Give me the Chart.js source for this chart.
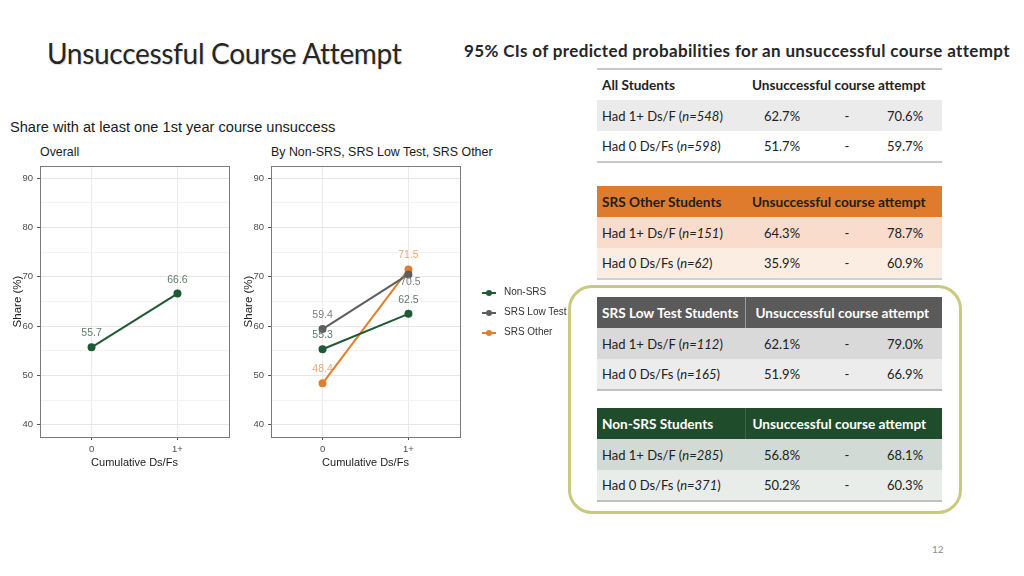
<!DOCTYPE html>
<html>
<head>
<meta charset="utf-8">
<script src="https://cdn.jsdelivr.net/npm/chart.js@4.4.1/dist/chart.umd.min.js"></script>
<style>
body { margin:0; width:1024px; height:576px; background:#fff; position:relative; overflow:hidden; font-family:Lato, "Liberation Sans", sans-serif; }
.abs { position:absolute; white-space:nowrap; }
#mainTitle { left:47px; top:36px; font-size:28px; color:#262626; letter-spacing:-0.3px; text-shadow:1px 1px 1px rgba(0,0,0,0.15); }
#ciTitle { left:464px; top:40px; font-size:17px; font-weight:bold; color:#262626; letter-spacing:0.35px; }
.rtext { font-family:"Liberation Sans", Arial, sans-serif; color:#1a1a1a; }
#chartTitle { left:10px; top:119px; font-size:14.6px; }
.panelTitle { top:145px; font-size:12.4px; }
canvas { position:absolute; }
#legend { left:480px; top:285px; font-family:"Liberation Sans", Arial, sans-serif; font-size:10px; color:#333; }
.legItem { position:relative; height:20px; }
.legLine { position:absolute; left:2px; top:7px; width:14px; height:2px; }
.legDot { position:absolute; left:6px; top:5px; width:6px; height:6px; border-radius:50%; }
.legText { position:absolute; left:24px; top:1px; }
table { position:absolute; left:597px; width:345px; border-collapse:collapse; table-layout:fixed; font-size:13px; color:#222; }
td { height:31px; padding:0; box-sizing:border-box; }
td.lab { padding-left:5px; }
td.num { text-align:center; }
td.hd { font-weight:bold; font-size:13.6px; }
#box { left:568px; top:285px; width:388px; height:223px; border:3px solid #c9ca80; border-radius:24px; }
#pageNo { left:932px; top:543px; font-size:10px; color:#8c8c8c; }
</style>
</head>
<body>
<div class="abs" id="mainTitle">Unsuccessful Course Attempt</div>
<div class="abs" id="ciTitle">95% CIs of predicted probabilities for an unsuccessful course attempt</div>
<div class="abs rtext" id="chartTitle">Share with at least one 1st year course unsuccess</div>
<div class="abs rtext panelTitle" style="left:40px;">Overall</div>
<div class="abs rtext panelTitle" style="left:271px;">By Non-SRS, SRS Low Test, SRS Other</div>
<canvas id="overall" width="236" height="310" style="left:0px;top:160px;"></canvas>
<canvas id="bygroup" width="236" height="310" style="left:232px;top:160px;"></canvas>
<div class="abs" id="legend"></div>
<div class="abs" id="box"></div>
<div id="tables"></div>
<div class="abs" id="pageNo">12</div>

<script>
// chart data
const xLabels = ["0", "1+"];
const yMajor = [40, 50, 60, 70, 80, 90];
const yMinor = [45, 55, 65, 75, 85];
const overallShare = [55.7, 66.6];
const seriesNames = ["Non-SRS", "SRS Low Test", "SRS Other"];
const nonSrsShare = [55.3, 62.5];
const lowTestShare = [59.4, 70.5];
const srsOtherShare = [48.4, 71.5];

// table data
const tableTitles = ["All Students", "SRS Other Students", "SRS Low Test Students", "Non-SRS Students"];
const rowLabels = ["Had 1+ Ds/F", "Had 0 Ds/Fs"];
const allN = [548, 598];
const allLow = ["62.7%", "51.7%"];
const allHigh = ["70.6%", "59.7%"];
const otherN = [151, 62];
const otherLow = ["64.3%", "35.9%"];
const otherHigh = ["78.7%", "60.9%"];
const lowTestN = [112, 165];
const lowTestLow = ["62.1%", "51.9%"];
const lowTestHigh = ["79.0%", "66.9%"];
const nonSrsN = [285, 371];
const nonSrsLow = ["56.8%", "50.2%"];
const nonSrsHigh = ["68.1%", "60.3%"];

const GREEN = "#1f5a36", GREY = "#5e5e5e", ORANGE = "#e07f2c";

function pts(arr) { return arr.map((v, i) => ({ x: i, y: v })); }

const pointLabels = {
    id: "pointLabels",
    afterDatasetsDraw(chart) {
        const ctx = chart.ctx;
        chart.data.datasets.forEach((ds, i) => {
            const meta = chart.getDatasetMeta(i);
            meta.data.forEach((pt, j) => {
                const below = ds.labelBelow && ds.labelBelow[j];
                ctx.save();
                ctx.font = '10.5px "Liberation Sans"';
                ctx.fillStyle = ds.labelColor;
                ctx.textAlign = "center";
                ctx.textBaseline = "middle";
                ctx.fillText(ds.data[j].y.toFixed(1), pt.x + (below ? 2 : 0), pt.y + (below ? 8 : -14));
                ctx.restore();
            });
        });
    }
};

const frame = {
    id: "frame",
    afterDraw(chart) {
        const a = chart.chartArea, ctx = chart.ctx;
        ctx.save();
        ctx.strokeStyle = "#7a7a7a";
        ctx.lineWidth = 1;
        ctx.strokeRect(Math.round(a.left) + 0.5, Math.round(a.top) + 0.5, Math.round(a.right - a.left), Math.round(a.bottom - a.top));
        ctx.restore();
    }
};

function makeOptions(yWidth, rightPad, titlePad) {
    return {
        responsive: false,
        animation: false,
        layout: { padding: { top: 6, right: rightPad, left: 0, bottom: 0 } },
        plugins: { legend: { display: false }, tooltip: { enabled: false } },
        scales: {
            x: {
                type: "linear", min: -0.6, max: 1.6,
                afterBuildTicks: s => { s.ticks = [{ value: 0 }, { value: 1 }]; },
                afterFit: s => { s.height = 33; s.paddingLeft = 0; s.paddingRight = 0; },
                ticks: { callback: (v, i) => xLabels[i], color: "#4d4d4d", font: { family: "Liberation Sans", size: 9.5 }, padding: 4, maxRotation: 0 },
                grid: { color: "#ebebeb", tickColor: "#555", tickLength: 3 },
                border: { display: false },
                title: { display: true, text: "Cumulative Ds/Fs", color: "#222", font: { family: "Liberation Sans", size: 11 }, padding: { top: 0, bottom: 0 } }
            },
            y: {
                min: 37.5, max: 92.5,
                afterBuildTicks: s => { s.ticks = yMajor.concat(yMinor).sort((a, b) => a - b).map(v => ({ value: v })); },
                afterFit: s => { s.width = yWidth; s.paddingTop = 0; s.paddingBottom = 0; },
                ticks: { callback: v => yMajor.includes(v) ? String(v) : "", color: "#4d4d4d", font: { family: "Liberation Sans", size: 9.5 }, padding: 4 },
                grid: {
                    color: c => yMajor.includes(c.tick.value) ? "#e6e6e6" : "#f3f3f3",
                    tickColor: c => yMajor.includes(c.tick.value) ? "#555" : "rgba(0,0,0,0)",
                    tickLength: 3
                },
                border: { display: false },
                title: { display: true, text: "Share (%)", color: "#222", font: { family: "Liberation Sans", size: 11.5 }, padding: { top: titlePad, bottom: 0 } }
            }
        }
    };
}

function lineSet(label, data, color, labelColor, labelBelow) {
    return {
        label: label, data: pts(data),
        borderColor: color, backgroundColor: color, pointBackgroundColor: color, pointBorderColor: color,
        borderWidth: 2, pointRadius: 3, clip: false,
        labelColor: labelColor, labelBelow: labelBelow
    };
}

new Chart(document.getElementById("overall"), {
    type: "line",
    data: { datasets: [lineSet("Overall", overallShare, GREEN, "#5d7d6a", null)] },
    options: makeOptions(40, 7, 11),
    plugins: [pointLabels, frame]
});

new Chart(document.getElementById("bygroup"), {
    type: "line",
    data: { datasets: [
        lineSet(seriesNames[0], nonSrsShare, GREEN, "#5d7d6a", null),
        lineSet(seriesNames[1], lowTestShare, GREY, "#7d7d7d", [false, true]),
        lineSet(seriesNames[2], srsOtherShare, ORANGE, "#eaa86e", null)
    ] },
    options: makeOptions(39, 8, 10),
    plugins: [pointLabels, frame]
});

// legend
const legColors = [GREEN, GREY, ORANGE];
let legHtml = "";
seriesNames.forEach((n, i) => {
    legHtml += `<div class="legItem"><div class="legLine" style="background:${legColors[i]}"></div><div class="legDot" style="background:${legColors[i]}"></div><div class="legText">${n}</div></div>`;
});
document.getElementById("legend").innerHTML = legHtml;

// tables
function makeTable(top, title, ns, lows, highs, s) {
    let html = `<table style="top:${top}px;${s.topLine ? "border-top:2px solid #c8c8c8;" : ""}border-bottom:2px solid ${s.bottom};">`;
    html += `<colgroup><col style="width:148px"><col style="width:74px"><col style="width:56px"><col style="width:67px"></colgroup>`;
    html += `<tr style="background:${s.head};color:${s.headText}">`;
    html += `<td class="lab hd" style="${s.sep ? "border-right:1px solid " + s.sep : ""}">${title}</td>`;
    html += `<td class="hd" colspan="3" style="padding-left:${s.pad}px">Unsuccessful course attempt</td></tr>`;
    rowLabels.forEach((r, i) => {
        html += `<tr style="background:${s.rows[i]}">`;
        html += `<td class="lab">${r} (<i>n=${ns[i]}</i>)</td>`;
        html += `<td class="num">${lows[i]}</td><td class="num">-</td><td class="num" style="padding-right:7px">${highs[i]}</td></tr>`;
    });
    html += `</table>`;
    return html;
}

let tables = "";
tables += makeTable(68, tableTitles[0], allN, allLow, allHigh,
    { topLine: true, head: "#ffffff", headText: "#222", rows: ["#ebebeb", "#ffffff"], bottom: "#c8c8c8", pad: 7 });
tables += makeTable(186, tableTitles[1], otherN, otherLow, otherHigh,
    { head: "#de7b2c", headText: "#1e1e1e", rows: ["#f9dccb", "#fcede3"], bottom: "#d0d0d0", pad: 7 });
tables += makeTable(297, tableTitles[2], lowTestN, lowTestLow, lowTestHigh,
    { head: "#5a5a5a", headText: "#ffffff", rows: ["#d9d9d9", "#ececec"], bottom: "#c0c0c0", pad: 10, sep: "#9a9a9a" });
tables += makeTable(408, tableTitles[3], nonSrsN, nonSrsLow, nonSrsHigh,
    { head: "#1f4d2c", headText: "#ffffff", rows: ["#d1dad4", "#e8edea"], bottom: "#c0c0c0", pad: 7, sep: "#3b6447" });
document.getElementById("tables").innerHTML = tables;
</script>
</body>
</html>
